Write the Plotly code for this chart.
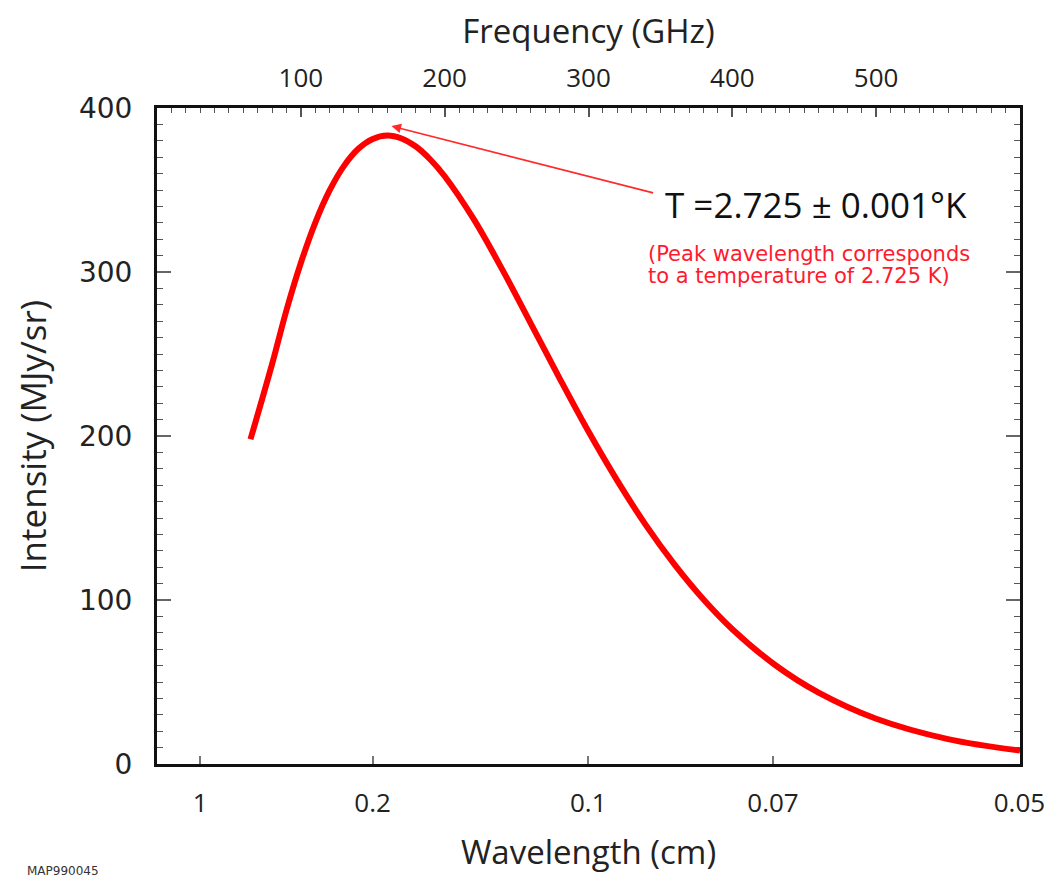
import plotly.graph_objects as go

# ---- data ----
frequency_ghz = [65, 80, 90, 100, 110, 120, 130, 140, 150, 160, 170, 180, 190, 200,
                 220, 240, 260, 280, 300, 320, 340, 360, 380, 400, 430, 460, 500, 550, 600]
intensity_mjy_sr = [198.0, 243.8, 276.7, 305.5, 330.0, 349.7, 364.7, 375.1, 381.1, 383.2,
                    381.4, 376.5, 368.6, 358.4, 332.5, 301.6, 268.4, 235.0, 202.7, 172.8,
                    145.5, 121.4, 100.3, 82.2, 60.2, 43.5, 27.6, 15.2, 8.2]

freq_tick_vals = [100, 200, 300, 400, 500]
freq_tick_labels = ["100", "200", "300", "400", "500"]
wavelength_ticks_cm = [1, 0.2, 0.1, 0.07, 0.05]
wavelength_tick_labels = ["1", "0.2", "0.1", "0.07", "0.05"]
intensity_ticks = [0, 100, 200, 300, 400]

peak_point = (163, 389)        # arrow head (GHz, MJy/sr)
label_point = (346, 348)       # arrow tail

C_LIGHT = 29.98  # GHz*cm
wavelength_tick_pos = [C_LIGHT / w for w in wavelength_ticks_cm]

COND = "Open Sans, sans-serif"
WIDE = "DejaVu Sans, Verdana, sans-serif"


def cf(size, color="#222"):
    return dict(family=COND, size=size, color=color)


fig = go.Figure()
fig.add_trace(go.Scatter(
    x=frequency_ghz, y=intensity_mjy_sr, mode="lines",
    line=dict(color="#ff0000", width=6, shape="spline", smoothing=1.0),
    xaxis="x", yaxis="y", showlegend=False, hoverinfo="skip"))
# invisible trace to activate the top frequency axis
fig.add_trace(go.Scatter(
    x=frequency_ghz, y=intensity_mjy_sr, mode="lines",
    line=dict(color="rgba(0,0,0,0)", width=0),
    xaxis="x2", yaxis="y", showlegend=False, hoverinfo="skip"))

fig.update_layout(
    width=1052, height=877,
    margin=dict(l=157, r=32, t=108, b=113),
    paper_bgcolor="white", plot_bgcolor="white",
    xaxis=dict(
        range=[0, 600], tickmode="array", tickvals=wavelength_tick_pos,
        ticktext=wavelength_tick_labels, ticks="inside", ticklen=8,
        tickcolor="#777", tickwidth=1.5, automargin=False,
        showline=True, linecolor="#111", linewidth=3, showgrid=False, zeroline=False,
        tickfont=cf(26), ticklabelstandoff=14,
        title=dict(text="Wavelength (cm)", font=cf(33), standoff=22)),
    xaxis2=dict(
        range=[0, 600], overlaying="x", side="top", anchor="y", automargin=False,
        tickmode="array", tickvals=freq_tick_vals, ticktext=freq_tick_labels,
        ticks="inside", ticklen=9, tickcolor="#555", tickwidth=1.5,
        minor=dict(tick0=0, dtick=10, ticks="inside", ticklen=5, tickcolor="#555", tickwidth=1.2),
        showline=True, linecolor="#111", linewidth=3, showgrid=False, zeroline=False,
        tickfont=cf(26), ticklabelstandoff=8,
        title=dict(text="Frequency (GHz)", font=cf(33), standoff=6)),
    yaxis=dict(
        range=[0, 400], tickmode="array", tickvals=intensity_ticks, automargin=False,
        ticks="inside", ticklen=14, tickcolor="#666", tickwidth=1.5,
        minor=dict(tick0=0, dtick=10, ticks="inside", ticklen=6, tickcolor="#555", tickwidth=1.2),
        mirror="ticks",
        showline=True, linecolor="#111", linewidth=3, showgrid=False, zeroline=False,
        tickfont=dict(family=WIDE, size=28, color="#222"), ticklabelstandoff=16,
        title=dict(text="Intensity (MJy/sr)", font=cf(35), standoff=22)),
)

# arrow pointing at the peak
fig.add_annotation(
    x=peak_point[0], y=peak_point[1], xref="x", yref="y",
    ax=label_point[0], ay=label_point[1], axref="x", ayref="y",
    showarrow=True, arrowhead=2, arrowsize=1.2, arrowwidth=1.6, arrowcolor="#ff2a2a",
    text="")
fig.add_annotation(
    x=352, y=341, xref="x", yref="y", xanchor="left", yanchor="middle",
    text="T =2.725 ± 0.001°K", showarrow=False, font=cf(35, "#111"))
fig.add_annotation(
    x=340, y=311, xref="x", yref="y", xanchor="left", yanchor="middle",
    text="(Peak wavelength corresponds", showarrow=False,
    font=dict(family=WIDE, size=21, color="#ff1a2e"))
fig.add_annotation(
    x=340, y=297.5, xref="x", yref="y", xanchor="left", yanchor="middle",
    text="to a temperature of 2.725 K)", showarrow=False,
    font=dict(family=WIDE, size=21, color="#ff1a2e"))
fig.add_annotation(
    x=-0.153, y=-0.163, xref="paper", yref="paper", xanchor="left", yanchor="middle",
    text="MAP990045", showarrow=False,
    font=dict(family=WIDE, size=12, color="#333"))

fig.write_html("out.html", config={"displayModeBar": False},
               post_script="document.body.style.margin='0';")
